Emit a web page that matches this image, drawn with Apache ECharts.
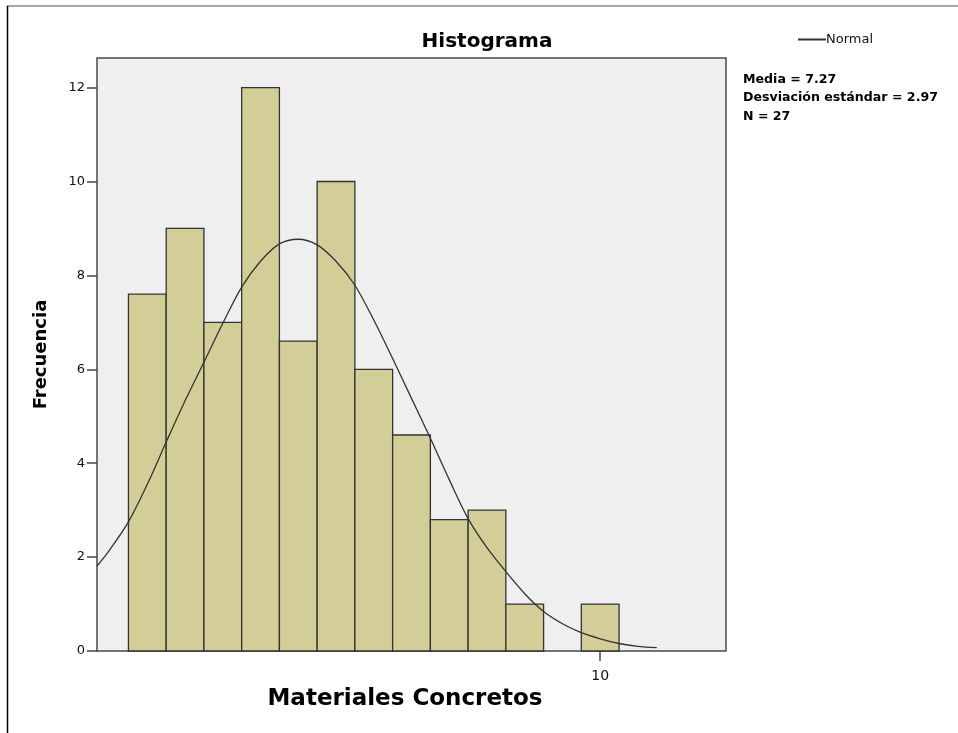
<!DOCTYPE html>
<html>
<head>
<meta charset="utf-8">
<script src="https://cdn.jsdelivr.net/npm/echarts@6/dist/echarts.min.js"></script>
<style>html,body{margin:0;padding:0;background:#fff}#c{width:958px;height:733px}</style>
</head>
<body>
<div id="c"></div>
<script>
// Histogram bins (data units of the x axis) and frequencies
var binEdges = [3.75, 4.25, 4.75, 5.25, 5.75, 6.25, 6.75, 7.25, 7.75, 8.25, 8.75, 9.25, 9.75, 10.25];
var frequencies = [7.6, 9, 7, 12, 6.6, 10, 6, 4.6, 2.8, 3, 1, 0, 1];
// Normal curve points
var curveX = [3.333, 3.5, 3.75, 4.0, 4.25, 4.5, 4.75, 5.0, 5.25, 5.5, 5.75, 6.0, 6.25, 6.5, 6.75, 7.0, 7.25, 7.5, 7.75, 8.0, 8.25, 8.5, 8.75, 9.0, 9.25, 9.5, 9.75, 10.0, 10.25, 10.5, 10.75];
var curveY = [1.81, 2.15, 2.75, 3.55, 4.45, 5.33, 6.15, 6.98, 7.75, 8.3, 8.67, 8.77, 8.65, 8.3, 7.79, 7.05, 6.23, 5.38, 4.53, 3.65, 2.82, 2.2, 1.69, 1.22, 0.84, 0.58, 0.39, 0.26, 0.16, 0.1, 0.07];
var yTicks = [0, 2, 4, 6, 8, 10, 12];
var xTicks = [10];
var statsLines = ['Media = 7.27', 'Desviación estándar = 2.97', 'N = 27'];

var barData = frequencies.map(function (f, i) { return [binEdges[i], binEdges[i + 1], f]; });
var lineData = curveX.map(function (x, i) { return [x, curveY[i]]; });

var chart = echarts.init(document.getElementById('c'));
var FONT = 'DejaVu Sans';
chart.setOption({
  animation: false,
  backgroundColor: '#ffffff',
  title: {
    text: 'Histograma', left: 482, top: 27, textAlign: 'center',
    textStyle: { fontFamily: FONT, fontSize: 20, fontWeight: 'bold', color: '#000' }
  },
  legend: {
    left: 793, top: 28, itemWidth: 28, itemHeight: 2, itemGap: 0,
    icon: 'rect',
    data: [{ name: 'Normal', itemStyle: { color: '#333' } }],
    textStyle: { fontFamily: FONT, fontSize: 13, color: '#111', padding: [0, 0, 0, -5] }
  },
  grid: {
    left: 97, top: 58, right: 232, bottom: 82,
    show: true, backgroundColor: '#efefef', borderColor: '#4a4a4a', borderWidth: 1.5
  },
  xAxis: {
    type: 'value', min: 10 / 3, max: 35 / 3,
    name: 'Materiales Concretos', nameLocation: 'middle', nameGap: 37,
    nameTextStyle: { fontFamily: FONT, fontSize: 23, fontWeight: 'bold', color: '#000', padding: [0, 13, 0, 0] },
    axisLine: { show: false },
    splitLine: { show: false },
    axisTick: { show: true, inside: false, length: 10, customValues: xTicks, lineStyle: { color: '#444', width: 1.5 } },
    axisLabel: { customValues: xTicks, fontFamily: FONT, fontSize: 14, color: '#111', margin: 18 }
  },
  yAxis: {
    type: 'value', min: 0, max: 12.63,
    name: 'Frecuencia', nameLocation: 'middle', nameGap: 47,
    nameTextStyle: { fontFamily: FONT, fontSize: 18, fontWeight: 'bold', color: '#000' },
    axisLine: { show: false },
    splitLine: { show: false },
    axisTick: { show: true, inside: false, length: 10, customValues: yTicks, lineStyle: { color: '#444', width: 1.5 } },
    axisLabel: { customValues: yTicks, fontFamily: FONT, fontSize: 13, color: '#111', margin: 12 }
  },
  graphic: [
    { type: 'line', shape: { x1: 7, y1: 6, x2: 958, y2: 6 }, style: { stroke: '#888', lineWidth: 1.5 } },
    { type: 'line', shape: { x1: 7.5, y1: 6, x2: 7.5, y2: 733 }, style: { stroke: '#000', lineWidth: 1.5 } },
    {
      type: 'text', left: 743, top: 70,
      style: { text: statsLines.join('\n'), fontFamily: FONT, fontSize: 12.6, fontWeight: 'bold', lineHeight: 18.7, fill: '#000' }
    }
  ],
  series: [
    {
      type: 'custom', name: 'Frecuencia',
      renderItem: function (params, api) {
        var p0 = api.coord([api.value(0), api.value(2)]);
        var p1 = api.coord([api.value(1), 0]);
        return {
          type: 'rect',
          shape: { x: p0[0], y: p0[1], width: p1[0] - p0[0], height: p1[1] - p0[1] },
          style: { fill: '#d3ce97', stroke: '#333', lineWidth: 1.3 }
        };
      },
      encode: { x: [0, 1], y: 2 },
      data: barData.filter(function (d) { return d[2] > 0; }),
      z: 2
    },
    {
      type: 'line', name: 'Normal', data: lineData, smooth: 0.3, symbol: 'none',
      lineStyle: { color: '#333', width: 1.3 }, itemStyle: { color: '#333' }, z: 3
    }
  ]
});
</script>
</body>
</html>
